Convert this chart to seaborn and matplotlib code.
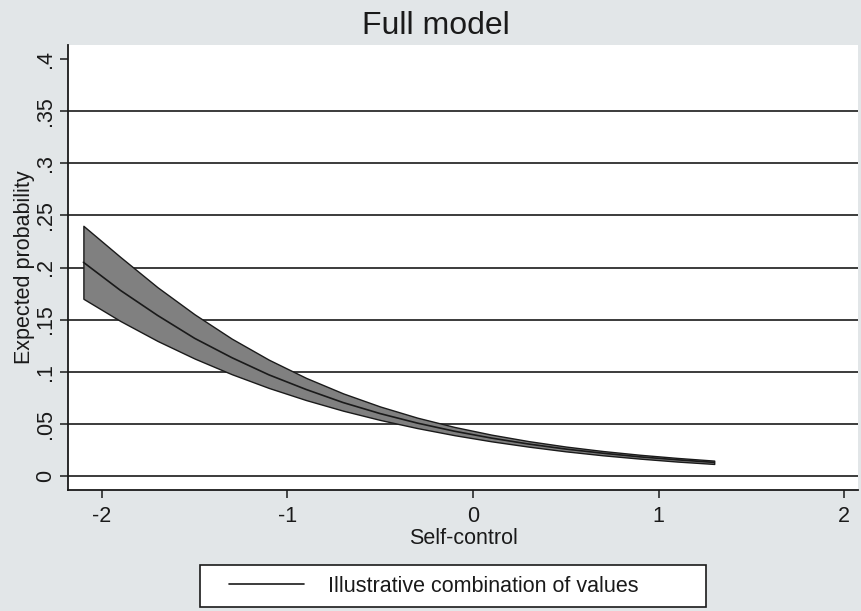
import numpy as np
import pandas as pd
import seaborn as sns
import matplotlib.pyplot as plt
from matplotlib.patches import Rectangle

# values
self_control = [-2.1, -1.9, -1.7, -1.5, -1.3, -1.1, -0.9, -0.7, -0.5,
                -0.3, -0.1, 0.1, 0.3, 0.5, 0.7, 0.9, 1.1, 1.3]
prob = [0.205, 0.178, 0.154, 0.132, 0.1135, 0.097, 0.083, 0.0704, 0.0598,
        0.0507, 0.0429, 0.0363, 0.0306, 0.0258, 0.0218, 0.0183, 0.0155, 0.0130]
upper = [0.240, 0.210, 0.181, 0.155, 0.1317, 0.1115, 0.0941, 0.0792, 0.0666,
         0.0559, 0.0470, 0.0396, 0.0334, 0.0282, 0.0239, 0.0203, 0.0173, 0.0147]
lower = [0.170, 0.1486, 0.1295, 0.1126, 0.0976, 0.0844, 0.0728, 0.0626, 0.0537,
         0.0459, 0.0391, 0.0332, 0.0281, 0.0236, 0.0198, 0.0166, 0.0138, 0.0115]
y_ticks = [0, 0.05, 0.1, 0.15, 0.2, 0.25, 0.3, 0.35, 0.4]
y_labels = ["0", ".05", ".1", ".15", ".2", ".25", ".3", ".35", ".4"]
x_ticks = [-2, -1, 0, 1, 2]

df = pd.DataFrame({"x": self_control, "p": prob, "hi": upper, "lo": lower})

sns.set_style("white")
plt.rcParams['font.family'] = ['Liberation Sans', 'DejaVu Sans']
ink = '#1a1a1a'
fs = 15.5

fig = plt.figure(figsize=(8.61, 6.11), dpi=100, facecolor='#e2e6e8')
ax = fig.add_axes([68/861, 1-490/611, 790/861, 445/611])
ax.set_facecolor('white')

#grid lines (none at the top tick)
for y in y_ticks[:-1]:
    ax.axhline(y, color=ink, lw=1.2, zorder=1)

ax.fill_between(df["x"], df["lo"], df["hi"], facecolor='#808080',
                edgecolor=ink, lw=1, zorder=2)
sns.lineplot(data=df, x="x", y="p", color=ink, lw=1.2, ax=ax,
             label='Illustrative combination of values', zorder=3)
handles, labels = ax.get_legend_handles_labels()
ax.get_legend().remove()

ax.set_xlim(-2.183, 2.075)
ax.set_ylim(-0.0135, 0.4135)
ax.set_xticks(x_ticks)
ax.set_xticklabels([str(t) for t in x_ticks])
ax.set_yticks(y_ticks)
ax.set_yticklabels(y_labels, rotation=90, va='center')
ax.tick_params(bottom=True, left=True, direction='out', length=5.5, width=1.1,
               colors=ink, labelsize=fs)
ax.tick_params(axis='x', pad=6)
ax.tick_params(axis='y', pad=3)
for s in ["top", "right"]:
    ax.spines[s].set_visible(False)
for s in ["left", "bottom"]:
    ax.spines[s].set_color(ink)
    ax.spines[s].set_linewidth(1.3)

ax.set_xlabel("Self-control", fontsize=fs, color=ink, labelpad=1)
ax.set_ylabel("Expected probability", fontsize=fs, color=ink, labelpad=0)

fig.text(436/861, 1-26/611, "Full model", ha='center', va='center',
         fontsize=23, color=ink)

# legend box drawn by hand so the padding matches
fig.patches.append(Rectangle((200/861, 1-607/611), 506/861, 42/611,
                             transform=fig.transFigure, facecolor='white',
                             edgecolor=ink, lw=1.2, zorder=0))
leg = fig.legend(handles, labels, loc='center left',
                 bbox_to_anchor=(229/861, 1-586/611), frameon=False,
                 fontsize=fs, handlelength=3.5, handletextpad=1.1,
                 borderpad=0, borderaxespad=0)
for t in leg.get_texts():
    t.set_color(ink)

fig.savefig("out.png", dpi=100, facecolor=fig.get_facecolor())
